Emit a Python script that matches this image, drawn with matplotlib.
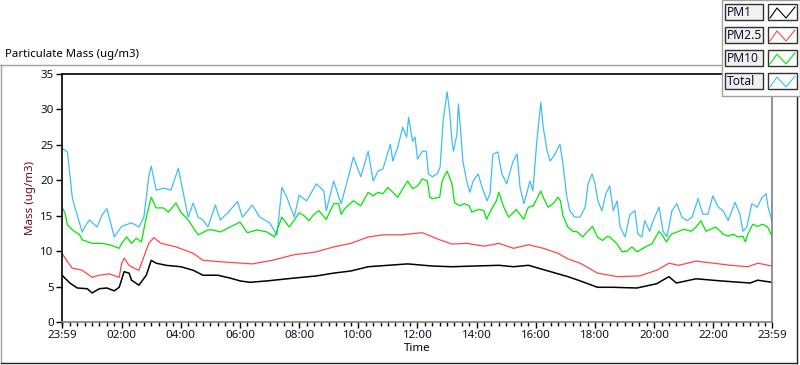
import matplotlib
matplotlib.use('Agg')
from matplotlib import pyplot as plt
from matplotlib.ticker import MultipleLocator, FixedLocator
from matplotlib.patches import Rectangle
from matplotlib.lines import Line2D

plt.rcParams['font.family'] = ['Noto Sans', 'DejaVu Sans']

# Time in minutes of the day (23:59 of the previous day = -1, 23:59 = 1439)
t_pm1 = [-1, 15, 30, 50, 60, 75, 90, 105, 115, 125, 135, 140, 155, 170, 180, 190, 210, 240,
         265, 285, 315, 340, 360, 380, 415, 470, 515, 550, 585, 620, 660, 700, 750, 790, 835,
         885, 915, 945, 985, 1025, 1050, 1085, 1115, 1165, 1205, 1230, 1245, 1285, 1335, 1375,
         1395, 1410, 1439]
pm1 = [6.6, 5.5, 4.8, 4.7, 4.1, 4.7, 4.8, 4.4, 4.9, 7.1, 6.9, 5.9, 5.2, 6.6, 8.7, 8.3, 8.0, 7.8,
       7.3, 6.6, 6.6, 6.2, 5.8, 5.6, 5.8, 6.2, 6.5, 6.9, 7.2, 7.8, 8.0, 8.2, 7.9, 7.8, 7.9,
       8.0, 7.8, 8.0, 7.2, 6.4, 5.8, 4.9, 4.9, 4.8, 5.4, 6.4, 5.5, 6.1, 5.8, 5.6,
       5.5, 5.9, 5.6]

t_pm25 = [-1, 10, 20, 40, 60, 75, 95, 115, 120, 125, 135, 145, 155, 165, 175, 185, 200, 230,
          265, 285, 320, 365, 385, 425, 470, 495, 515, 550, 585, 620, 650, 685, 730, 765, 790,
          820, 855, 885, 915, 945, 975, 1005, 1025, 1050, 1085, 1125, 1170, 1205, 1230, 1250,
          1285, 1320, 1355, 1390, 1410, 1439]
pm25 = [9.7, 8.5, 7.6, 7.3, 6.3, 6.6, 6.8, 6.3, 8.3, 9.0, 8.0, 7.6, 7.3, 9.2, 11.1, 11.9, 11.1, 10.6,
        9.7, 8.7, 8.5, 8.3, 8.2, 8.7, 9.5, 9.7, 9.9, 10.6, 11.1, 12.0, 12.3, 12.3, 12.6, 11.6, 11.0,
        11.1, 10.7, 11.1, 10.4, 10.9, 10.4, 9.7, 8.9, 8.3, 6.9, 6.4, 6.5, 7.3, 8.3, 8.0,
        8.6, 8.3, 8.0, 7.8, 8.3, 7.9]

t_pm10 = [-1, 5, 10, 20, 35, 40, 60, 80, 95, 115, 120, 130, 140, 150, 160, 170, 180, 190, 205,
          215, 230, 240, 255, 275, 295, 305, 320, 340, 360, 375, 395, 415, 430, 445, 460, 480,
          490, 500, 510, 520, 535, 550, 560, 565, 575, 590, 605, 620, 630, 640, 650, 660, 670,
          680, 690, 700, 710, 720, 730, 740, 745, 750, 765, 770, 780, 790, 795, 805, 815, 825,
          830, 845, 855, 860, 870, 880, 885, 895, 905, 915, 920, 930, 935, 945, 955, 960, 970,
          975, 985, 995, 1005, 1010, 1015, 1025, 1035, 1045, 1055, 1065, 1075, 1085, 1095, 1105,
          1110, 1125, 1135, 1145, 1155, 1165, 1175, 1185, 1195, 1210, 1215, 1225, 1235, 1250,
          1260, 1275, 1285, 1295, 1305, 1315, 1325, 1340, 1350, 1360, 1370, 1380, 1385, 1390,
          1400, 1410, 1420, 1430, 1439]
pm10 = [16.2, 15.4, 13.7, 13.0, 12.3, 11.6, 11.1, 11.1, 10.9, 10.4, 11.1, 12.0, 11.1, 11.8, 11.3,
        14.8, 17.6, 16.1, 16.1, 15.5, 16.8, 15.5, 14.4, 12.3, 13.0, 13.0, 12.7, 13.4, 14.1, 12.6,
        13.0, 12.7, 12.0, 14.8, 13.4, 15.4, 15.0, 14.3, 15.2, 15.7, 14.5, 16.7, 16.7, 15.2, 16.2,
        17.1, 16.4, 18.3, 17.8, 18.3, 18.1, 19.0, 18.3, 17.6, 18.8, 19.9, 18.8, 19.2, 20.2, 19.9,
        17.6, 17.4, 17.6, 19.9, 21.3, 19.5, 16.9, 16.4, 16.7, 16.4, 15.5, 15.9, 15.7, 14.5, 15.9,
        17.1, 18.3, 16.2, 14.8, 15.5, 15.9, 15.0, 14.5, 16.2, 16.4, 17.1, 18.5, 17.6, 16.2, 16.7,
        17.6, 17.1, 15.0, 13.4, 12.8, 12.7, 12.0, 12.8, 13.5, 12.0, 11.5, 12.1, 12.0, 11.0, 9.9,
        10.0, 10.6, 9.9, 10.3, 10.7, 11.0, 12.8, 12.4, 11.3, 12.4, 12.8, 13.1, 12.8, 13.4, 14.3,
        12.8, 13.1, 13.4, 12.4, 12.1, 12.4, 12.0, 12.1, 11.3, 12.4, 13.8, 13.5, 13.8, 13.4, 12.1]

t_total = [-1, 10, 20, 25, 40, 50, 55, 70, 80, 90, 105, 120, 140, 155, 165, 175, 180, 190, 205,
           220, 235, 245, 255, 265, 275, 285, 295, 310, 320, 335, 355, 365, 385, 400, 420, 435,
           445, 455, 470, 480, 495, 515, 530, 535, 550, 565, 580, 590, 605, 620, 630, 640, 650,
           665, 670, 680, 690, 698, 702, 710, 715, 720, 730, 738, 742, 750, 760, 766, 772, 780,
           785, 790, 793, 800, 803, 807, 812, 820, 826, 833, 843, 851, 861, 867, 873, 883, 891,
           901, 908, 914, 922, 928, 936, 948, 954, 962, 970, 975, 983, 989, 999, 1009, 1015, 1023,
           1029, 1039, 1050, 1060, 1066, 1074, 1080, 1086, 1094, 1102, 1110, 1117, 1125, 1131,
           1141, 1151, 1161, 1167, 1175, 1181, 1191, 1198, 1210, 1218, 1226, 1236, 1246, 1256,
           1267, 1277, 1289, 1299, 1309, 1319, 1330, 1340, 1350, 1364, 1374, 1380, 1388, 1398,
           1409, 1419, 1427, 1431, 1439]
total = [24.5, 24.0, 17.5, 16.2, 12.7, 14.0, 14.4, 13.4, 15.1, 16.0, 12.0, 13.5, 14.0, 13.4, 14.8,
         20.5, 22.0, 18.6, 18.9, 18.6, 21.7, 18.2, 14.8, 16.8, 14.8, 14.4, 13.4, 16.5, 14.4, 15.4,
         17.0, 14.8, 16.5, 14.8, 14.0, 12.3, 19.0, 17.6, 14.8, 17.9, 17.1, 19.5, 18.5, 15.7, 19.9,
         16.7, 20.5, 23.3, 20.5, 24.1, 19.9, 21.3, 21.6, 25.1, 22.7, 24.7, 27.5, 26.1, 28.9, 25.5,
         26.1, 23.0, 24.1, 24.1, 20.9, 20.5, 20.9, 21.9, 28.4, 32.5, 29.8, 25.5, 24.1, 26.5, 30.8,
         27.5, 22.7, 19.8, 18.3, 19.9, 20.9, 19.0, 17.1, 18.1, 23.7, 24.0, 20.9, 19.5, 21.3, 22.7,
         23.7, 19.0, 16.7, 19.9, 18.5, 25.5, 31.0, 27.5, 24.1, 22.7, 23.7, 25.1, 22.3, 17.6, 15.7,
         14.8, 14.8, 16.2, 19.5, 20.9, 19.5, 17.1, 15.7, 18.1, 19.2, 15.7, 17.1, 13.4, 12.0, 15.2,
         15.7, 12.4, 12.0, 14.3, 12.8, 14.3, 16.2, 12.8, 12.0, 15.7, 16.7, 14.8, 14.3, 14.8, 17.4,
         15.2, 15.2, 17.8, 16.2, 15.7, 14.3, 16.9, 15.2, 12.8, 13.4, 16.7, 16.2, 17.6, 18.1, 16.2,
         14.3]

names = ['PM1', 'PM2.5', 'PM10', 'Total']
colors = ['black', '#ff4646', '#00e600', '#40bdf5']
tick_pos = [-1, 120, 240, 360, 480, 600, 720, 840, 960, 1080, 1200, 1320, 1439]
tick_lbl = ['23:59', '02:00', '04:00', '06:00', '08:00', '10:00', '12:00',
            '14:00', '16:00', '18:00', '20:00', '22:00', '23:59']

W, H = 800, 365


def fx(x):
    return x / W


def fy(y):
    return 1 - y / H


fig = plt.figure(figsize=(8, 3.65), dpi=100)
fig.patch.set_facecolor('white')
ax = fig.add_axes([fx(62), fy(322), fx(772) - fx(62), fy(74) - fy(322)])

series = [(t_pm1, pm1), (t_pm25, pm25), (t_pm10, pm10), (t_total, total)]
widths = [1.1, 0.9, 0.9, 0.9]
for (t, v), c, w in zip(series[::-1], colors[::-1], widths[::-1]):
    ax.plot(t, v, color=c, lw=w)

ax.set_xlim(-1, 1439)
ax.set_ylim(0, 35)
ax.yaxis.set_major_locator(MultipleLocator(5))
ax.xaxis.set_major_locator(FixedLocator(tick_pos))
ax.set_xticklabels(tick_lbl)
ax.xaxis.set_minor_locator(MultipleLocator(15))
ax.tick_params(axis='both', which='major', length=4, width=1, color='black',
               labelsize=8.3, labelcolor='#101020', pad=2)
ax.tick_params(axis='x', which='minor', length=3, width=1, color='black')
for s in ['left', 'top']:
    ax.spines[s].set_color('black')
    ax.spines[s].set_linewidth(1.2)
for s in ['right', 'bottom']:
    ax.spines[s].set_color('#808080')
    ax.spines[s].set_linewidth(1.2)
ax.set_xlabel('Time', fontsize=8.3, labelpad=1)
ax.set_ylabel('Mass (ug/m3)', fontsize=8.3, color='#6e0a1c', labelpad=3)

fig.text(fx(5), fy(54), 'Particulate Mass (ug/m3)', fontsize=8.2, va='center', ha='left')

# outer frame
fig.add_artist(Line2D([fx(0), fx(722)], [fy(64.5), fy(64.5)], color='#a0a0a0', lw=1))
fig.add_artist(Line2D([fx(1), fx(1)], [fy(64.5), fy(363)], color='#a0a0a0', lw=1))
fig.add_artist(Line2D([fx(1), fx(797)], [fy(363), fy(363)], color='#202020', lw=1))
fig.add_artist(Line2D([fx(797), fx(797)], [fy(96), fy(363)], color='#202020', lw=1))

# legend panel
fig.add_artist(Rectangle((fx(722), fy(96)), fx(800) - fx(722), fy(0) - fy(96),
                         facecolor='white', edgecolor='#a0a0a0', lw=1, zorder=5))
for i, (n, c) in enumerate(zip(names, colors)):
    top = 4 + 23 * i
    fig.add_artist(Rectangle((fx(725), fy(top + 16)), fx(763) - fx(725), fy(top) - fy(top + 16),
                             facecolor='#f0f0f0', edgecolor='#303030', lw=1, zorder=6))
    fig.text(fx(727), fy(top + 8.5), n, fontsize=8.7, va='center', ha='left',
             color='#101030', zorder=7)
    fig.add_artist(Rectangle((fx(768), fy(top + 16)), fx(797) - fx(768), fy(top) - fy(top + 16),
                             facecolor='white', edgecolor='#303030', lw=1, zorder=6))
    fig.add_artist(Line2D([fx(770), fx(777), fx(786), fx(795)],
                          [fy(top + 14), fy(top + 4), fy(top + 14), fy(top + 3)],
                          color=c, lw=0.8, zorder=7))

fig.savefig('out.png', dpi=100)
